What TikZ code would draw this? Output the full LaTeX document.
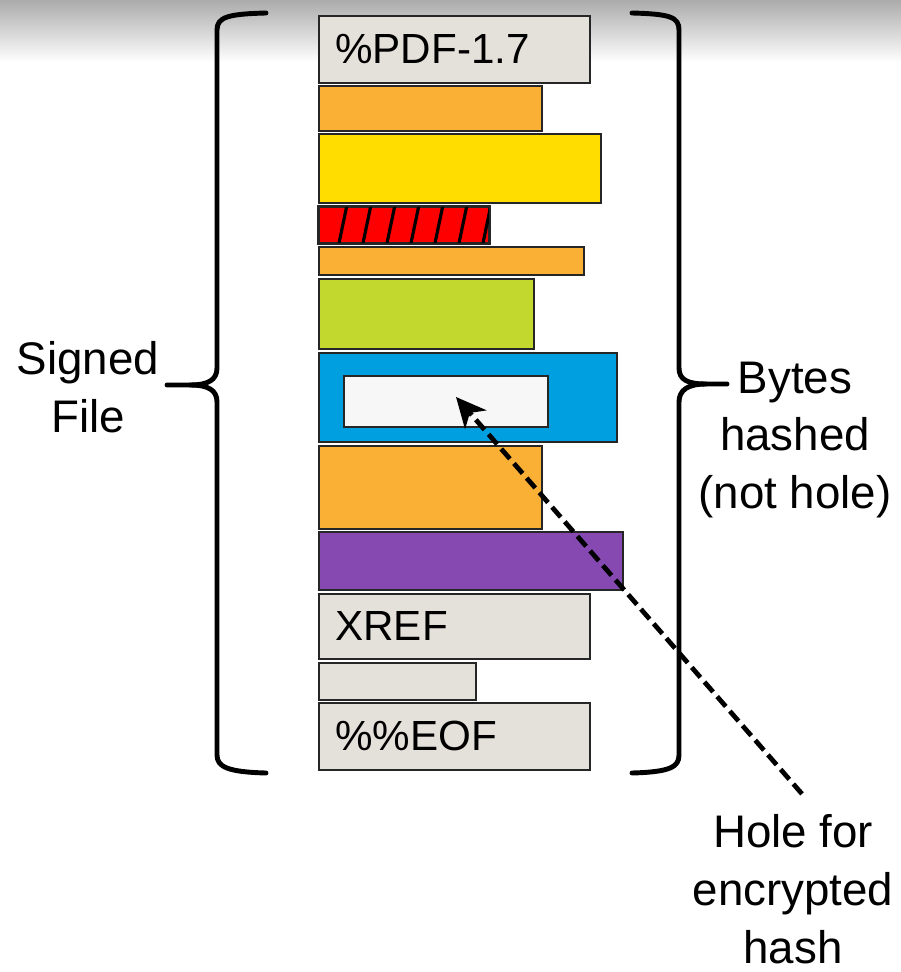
\documentclass[tikz,border=0pt]{standalone}
\usepackage{fontspec}
\setmainfont{Liberation Sans}
\usetikzlibrary{positioning,arrows.meta}
\definecolor{pdfgray}{HTML}{E4E0DA}
\definecolor{pdforange}{HTML}{FAB034}
\definecolor{pdfyellow}{HTML}{FFDD00}
\definecolor{pdfred}{HTML}{FF0000}
\definecolor{pdfgreen}{HTML}{C3D82F}
\definecolor{pdfblue}{HTML}{009FDF}
\definecolor{pdfpurple}{HTML}{8549B1}
\definecolor{holewhite}{HTML}{F7F7F7}
\def\px{0.02cm}

\tikzset{
  seg/.style={draw=black!85, line width=1.1pt, anchor=north west, inner sep=0pt},
  bartext/.style={font=\fontsize{24}{28}\selectfont, inner sep=0pt, node distance=0.34cm},
  side/.style={font=\fontsize{26}{33}\selectfont, align=center, inner sep=0pt},
  brace/.style={line width=2.8pt, line cap=round, line join=round},
  hashline/.style={line width=2.7pt, dash pattern=on 7.5pt off 3.5pt, -{Stealth[length=17pt,width=16pt,inset=5pt]}}
}

\begin{document}
\begin{tikzpicture}[x=0.02cm,y=-0.02cm]
        \useasboundingbox (0,0) rectangle (901,972);
        \shade[top color=black!33, bottom color=white] (0,0) rectangle (901,62);

        % file segments, top to bottom
        \node[seg, fill=pdfgray, minimum width=271*\px, minimum height=67*\px] (pdf) at (318,15) {};
        \node[seg, fill=pdforange, minimum width=223*\px, minimum height=45*\px] (obj1) at (318,85) {};
        \node[seg, fill=pdfyellow, minimum width=282*\px, minimum height=69*\px] (obj2) at (318,133) {};
        \node[seg, fill=pdfred, minimum width=170*\px, minimum height=36*\px] (sig) at (318,206) {};
        \node[seg, fill=pdforange, minimum width=265*\px, minimum height=28*\px] (obj3) at (318,246) {};
        \node[seg, fill=pdfgreen, minimum width=215*\px, minimum height=70*\px] (obj4) at (318,278) {};
        \node[seg, fill=pdfblue, minimum width=298*\px, minimum height=89*\px] (sigdict) at (318,352) {};
        \node[seg, fill=holewhite, minimum width=204*\px, minimum height=51*\px] (hole) at (343,375) {};
        \node[seg, fill=pdforange, minimum width=223*\px, minimum height=83*\px] (obj5) at (318,445) {};
        \node[seg, fill=pdfpurple, minimum width=304*\px, minimum height=58*\px] (obj6) at (318,531) {};
        \node[seg, fill=pdfgray, minimum width=271*\px, minimum height=65*\px] (xref) at (318,593) {};
        \node[seg, fill=pdfgray, minimum width=157*\px, minimum height=37*\px] (trailer) at (318,662) {};
        \node[seg, fill=pdfgray, minimum width=271*\px, minimum height=67*\px] (eof) at (318,702) {};

        \node[bartext, right=of pdf.west] (pdftxt) {\%PDF-1.7};
        \node[bartext, right=of xref.west] (xreftxt) {XREF};
        \node[bartext, right=of eof.west] (eoftxt) {\%\%EOF};

        % hatching on the red segment
        \begin{scope}
            \clip (sig.south west) rectangle (sig.north east);
            \foreach \x in {339,363,...,483}
                \draw[line width=1.8pt] (\x,243) -- ++(8,-38);
        \end{scope}
        \draw[black!85, line width=1.1pt] (sig.south west) rectangle (sig.north east);

        % braces
        \draw[brace] (266,13) .. controls (228,14) and (217,17) .. (217,30) -- (217,368)
            .. controls (217,380) and (208,385) .. (190,385) -- (167,385);
        \draw[brace] (190,385) .. controls (208,385) and (217,390) .. (217,402) -- (217,755)
            .. controls (217,767) and (228,772) .. (266,773);
        \draw[brace] (632,13) .. controls (670,14) and (679,17) .. (679,30) -- (679,368)
            .. controls (679,380) and (688,384) .. (706,384) -- (727,384);
        \draw[brace] (706,384) .. controls (688,384) and (679,390) .. (679,402) -- (679,755)
            .. controls (679,767) and (670,772) .. (632,773);

        \node[side] (signed) at (88,387) {Signed\\File};
        \node[side] (hashed) at (795,440) {Bytes\\hashed\\(not hole)};
        \node[side] (holelbl) at (793,889) {Hole for\\encrypted\\hash};

        \coordinate (holetip) at (456,397);
        \draw[hashline] (holelbl.north) +(9,-20) -- (holetip);
    \end{tikzpicture}
\end{document}
